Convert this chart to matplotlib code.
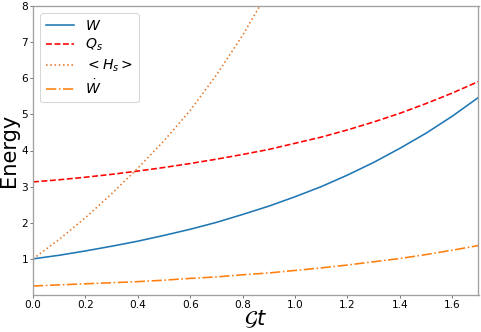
import matplotlib
matplotlib.use("Agg")
import matplotlib.pyplot as plt

# values
t = [0.0, 0.1, 0.2, 0.3, 0.4, 0.5, 0.6, 0.7, 0.8, 0.9,
     1.0, 1.1, 1.2, 1.3, 1.4, 1.5, 1.6, 1.7]
W = [1.0, 1.1, 1.22, 1.35, 1.49, 1.65, 1.82, 2.01, 2.23, 2.46,
     2.72, 3.0, 3.32, 3.67, 4.06, 4.48, 4.95, 5.47]
Qs = [3.13, 3.19, 3.26, 3.34, 3.43, 3.53, 3.64, 3.76, 3.89, 4.03,
      4.20, 4.37, 4.57, 4.79, 5.03, 5.30, 5.59, 5.91]
Wdot = [0.25, 0.28, 0.31, 0.34, 0.37, 0.41, 0.46, 0.50, 0.56, 0.61,
        0.68, 0.75, 0.83, 0.92, 1.01, 1.12, 1.24, 1.37]
tH = [0.0, 0.1, 0.2, 0.3, 0.4, 0.5, 0.6, 0.7, 0.8, 0.9]
Hs = [1.0, 1.54, 2.14, 2.80, 3.51, 4.27, 5.11, 6.09, 7.19, 8.43]

xticks = [0.0, 0.2, 0.4, 0.6, 0.8, 1.0, 1.2, 1.4, 1.6]
yticks = [1, 2, 3, 4, 5, 6, 7, 8]

fig = plt.figure(figsize=(481 / 72, 332 / 72), dpi=72)
ax = fig.add_axes([33 / 481, 37 / 332, 445.5 / 481, 289 / 332])

ax.plot(t, W, color='#1f77b4', lw=1.6, label=r'$W$')
ax.plot(t, Qs, color='red', ls='--', lw=1.6, label=r'$Q_s$')
ax.plot(tH, Hs, color='#e37b30', ls=':', lw=1.6, label=r'$<H_s>$')
ax.plot(t, Wdot, color='#ff7f0e', ls='-.', lw=1.6, label=r'$\dot{W}$')

ax.set_xlim(0, 1.7)
ax.set_ylim(0, 8)
ax.set_xticks(xticks)
ax.set_xticklabels(['%.1f' % v for v in xticks])
ax.set_yticks(yticks)
ax.tick_params(labelsize=10.5, length=3, color='#555555', pad=2)

for side in ['left', 'right', 'top', 'bottom']:
    ax.spines[side].set_color('#a0a0a0')
    ax.spines[side].set_linewidth(1.3)

ax.set_ylabel('Energy', fontsize=21, labelpad=2)
ax.set_xlabel(r'$\mathcal{G}t$', fontsize=21, labelpad=-2)

ax.legend(loc='upper left', fontsize=14, labelspacing=0.3)

fig.savefig('out.png', dpi=72)
